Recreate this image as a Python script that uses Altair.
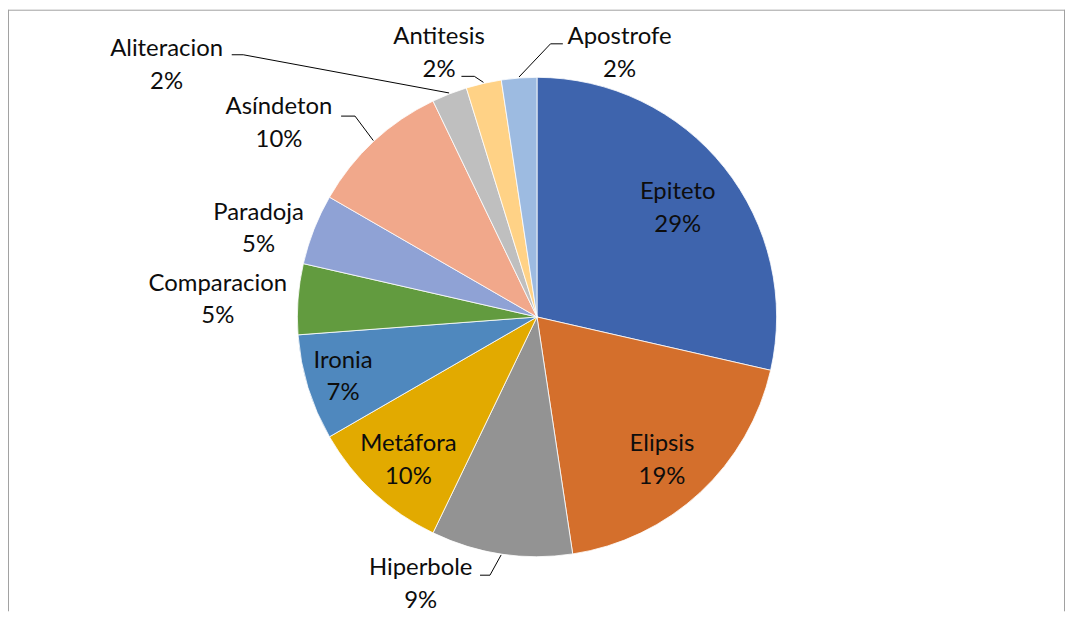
import math
import altair as alt
import pandas as pd

# ---------------- data ----------------
categories = ["Epiteto", "Elipsis", "Hiperbole", "Metáfora", "Ironia", "Comparacion",
              "Paradoja", "Asíndeton", "Aliteracion", "Antitesis", "Apostrofe"]
counts = [12, 8, 4, 4, 3, 2, 2, 4, 1, 1, 1]
pct_labels = ["29%", "19%", "9%", "10%", "7%", "5%", "5%", "10%", "2%", "2%", "2%"]
colors = ["#3E64AD", "#D46F2C", "#939393", "#E2AA00", "#4F88BE", "#629B3F",
          "#8FA2D5", "#F1A88B", "#BFBFBF", "#FFD286", "#9DBBE1"]

# ---------------- layout ----------------
W, H = 1063, 605
CX, CY = 532, 309
R = 241
LINE_H = 33

# label block centres relative to pie centre (as placed in the original)
label_offsets = {
    "Epiteto": (141.5, -108.7), "Elipsis": (125.7, 144.5), "Hiperbole": (-117, 269),
    "Metáfora": (-129.3, 144.5), "Ironia": (-195, 60.5), "Comparacion": (-321, -17),
    "Paradoja": (-280, -88.5), "Asíndeton": (-259.5, -194.3), "Aliteracion": (-372.5, -252.7),
    "Antitesis": (-98.5, -265), "Apostrofe": (83, -265),
}
# leader line end (near label) and elbow, relative to pie centre
leader_pts = {
    "Hiperbole": ((-57.3, 259.7), (-47.3, 259.7)),
    "Asíndeton": ((-197, -202), (-183, -202)),
    "Aliteracion": ((-307, -263.7), (-295.4, -263.7)),
    "Antitesis": ((-76, -242), (-63, -242)),
    "Apostrofe": ((26, -274.7), (13.6, -274.7)),
}

pie_df = pd.DataFrame({"category": categories, "count": counts, "idx": range(len(categories))})

lab_rows = []
for c, p in zip(categories, pct_labels):
    dx, dy = label_offsets[c]
    lab_rows.append({"category": c, "label": f"{c}\n{p}", "x": CX + dx, "y": CY + dy - LINE_H / 2})
lab_df = pd.DataFrame(lab_rows)

total = sum(counts)
cum = 0
mid = {}
for c, v in zip(categories, counts):
    mid[c] = (cum + v / 2) / total * 2 * math.pi
    cum += v

lead_rows = []
for c, (end, elbow) in leader_pts.items():
    a = mid[c]
    lead_rows.append({"category": c, "pt": 0, "x": CX + (R + 1) * math.sin(a), "y": CY - (R + 1) * math.cos(a)})
    lead_rows.append({"category": c, "pt": 1, "x": CX + elbow[0], "y": CY + elbow[1]})
    lead_rows.append({"category": c, "pt": 2, "x": CX + end[0], "y": CY + end[1]})
lead_df = pd.DataFrame(lead_rows)

pie = alt.Chart(pie_df).mark_arc(outerRadius=R, stroke="white", strokeWidth=0.8).encode(
    theta=alt.Theta("count:Q", stack=True),
    color=alt.Color("category:N", scale=alt.Scale(domain=categories, range=colors), legend=None),
    order=alt.Order("idx:Q"),
    x=alt.value(CX),
    y=alt.value(CY),
)

leaders = alt.Chart(lead_df).mark_line(color="#000000", strokeWidth=1).encode(
    x=alt.X("x:Q", scale=None),
    y=alt.Y("y:Q", scale=None),
    detail="category:N",
    order=alt.Order("pt:Q"),
)

labels = alt.Chart(lab_df).mark_text(
    font="Lato", fontSize=24, lineHeight=LINE_H, lineBreak="\n",
    align="center", baseline="middle", color="#0D0D0D",
).encode(
    x=alt.X("x:Q", scale=None),
    y=alt.Y("y:Q", scale=None),
    text="label:N",
)

frame_df = pd.DataFrame({"k": [0]})
frame_top = alt.Chart(frame_df).mark_rule(color="#A0A0A0", strokeWidth=1).encode(
    x=alt.value(0.5), x2=alt.value(W - 0.5), y=alt.value(0.5))
frame_left = alt.Chart(frame_df).mark_rule(color="#A0A0A0", strokeWidth=1).encode(
    x=alt.value(0.5), y=alt.value(0), y2=alt.value(H))
frame_right = alt.Chart(frame_df).mark_rule(color="#A0A0A0", strokeWidth=1).encode(
    x=alt.value(W - 0.5), y=alt.value(0), y2=alt.value(H))

chart = alt.layer(pie, leaders, labels, frame_top, frame_left, frame_right).properties(
    width=W, height=H, padding=0, autosize=alt.AutoSizeParams(type="none"),
).configure_view(stroke=None)

chart.save("out.html", embed_options={"renderer": "svg", "actions": False})
